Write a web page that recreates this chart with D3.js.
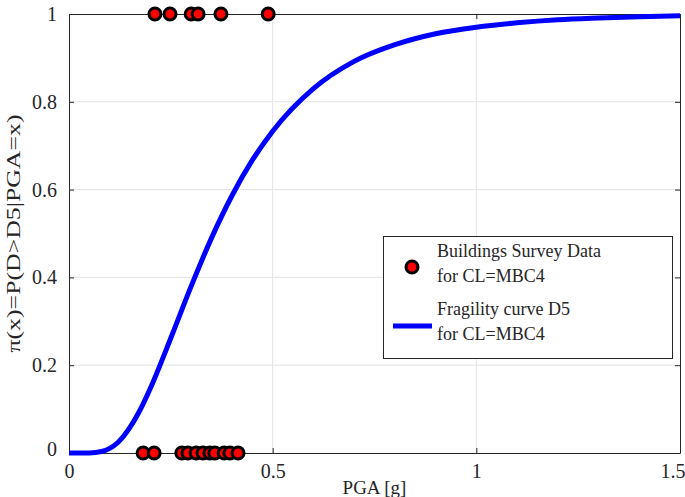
<!DOCTYPE html>
<html>
<head>
<meta charset="utf-8">
<script src="https://cdn.jsdelivr.net/npm/d3@7"></script>
<style>
  body { margin: 0; background: #fff; }
  svg text { font-family: "Liberation Serif", "Times New Roman", serif; fill: #262626; }
</style>
</head>
<body>
<svg id="chart" width="685" height="497"></svg>
<script>
// survey data: buildings that reached D5 (y = 1) and those that did not (y = 0)
const surveyCollapsed = [0.211, 0.248, 0.300, 0.317, 0.373, 0.489]
const surveyStanding = [0.182, 0.209, 0.277, 0.292, 0.312, 0.329, 0.346, 0.358, 0.381, 0.395, 0.415]

// fragility curve D5
const curvePGA = [0, 0.05, 0.08, 0.1, 0.12, 0.15, 0.18, 0.2, 0.25, 0.3, 0.35, 0.4, 0.45, 0.5,
    0.6, 0.7, 0.8, 0.9, 1.0, 1.1, 1.2, 1.3, 1.4, 1.5]
const curveProb = [0, 0.0002, 0.0034, 0.0106, 0.024, 0.059, 0.108, 0.148, 0.262, 0.380, 0.490, 0.586, 0.667, 0.733,
    0.830, 0.892, 0.930, 0.955, 0.970, 0.980, 0.987, 0.991, 0.994, 0.996]

const xTicks = [0, 0.5, 1, 1.5]
const yTicks = [0, 0.2, 0.4, 0.6, 0.8, 1]

const margin = { left: 69, right: 5, top: 14, bottom: 44 }
const width = 685, height = 497
const axisColor = "#262626"

const svg = d3.select("#chart")

const x = d3.scaleLinear().domain([0, 1.5]).range([margin.left, width - margin.right])
const y = d3.scaleLinear().domain([0, 1]).range([height - margin.bottom, margin.top])

// grid
svg.append("g")
    .selectAll("line.vg")
    .data(xTicks.slice(1, -1))
    .enter()
    .append("line")
    .attr("x1", d => x(d)).attr("x2", d => x(d))
    .attr("y1", y(0)).attr("y2", y(1))
    .attr("stroke", "#e3e3e3").attr("stroke-width", 1)
svg.append("g")
    .selectAll("line.hg")
    .data(yTicks.slice(1, -1))
    .enter()
    .append("line")
    .attr("x1", x(0)).attr("x2", x(1.5))
    .attr("y1", d => y(d)).attr("y2", d => y(d))
    .attr("stroke", "#e3e3e3").attr("stroke-width", 1)

// axes with inward ticks on all four sides
const fmt = d => String(d)
const bottomAxis = d3.axisBottom(x).tickValues(xTicks).tickSizeInner(-5).tickSizeOuter(0).tickPadding(11).tickFormat(fmt)
const topAxis = d3.axisTop(x).tickValues(xTicks).tickSizeInner(-5).tickSizeOuter(0).tickFormat("")
const leftAxis = d3.axisLeft(y).tickValues(yTicks).tickSizeInner(-5).tickSizeOuter(0).tickPadding(12).tickFormat(fmt)
const rightAxis = d3.axisRight(y).tickValues(yTicks).tickSizeInner(-5).tickSizeOuter(0).tickFormat("")

function styleAxis(g) {
    g.select(".domain").attr("stroke", axisColor).attr("stroke-width", 1)
    g.selectAll(".tick line").attr("stroke", axisColor)
    g.selectAll(".tick text").attr("font-size", 20).attr("fill", axisColor)
        .style("font-family", "'Liberation Serif', serif")
}

const gx = svg.append("g").attr("transform", `translate(0,${y(0)})`).call(bottomAxis).call(styleAxis)
svg.append("g").attr("transform", `translate(0,${y(1)})`).call(topAxis).call(styleAxis)
const gy = svg.append("g").attr("transform", `translate(${x(0)},0)`).call(leftAxis).call(styleAxis)
svg.append("g").attr("transform", `translate(${x(1.5)},0)`).call(rightAxis).call(styleAxis)

// last x label sits against the figure edge, the 0 y label a bit above the axis
gx.selectAll(".tick text").filter(d => d === 1.5)
    .attr("text-anchor", "end").attr("x", 5)
gy.selectAll(".tick text").filter(d => d === 0)
    .attr("y", -4)

// axis labels
svg.append("text")
    .attr("x", (x(0) + x(1.5)) / 2)
    .attr("y", 494)
    .attr("text-anchor", "middle")
    .attr("font-size", 19)
    .text("PGA [g]")
svg.append("text")
    .attr("transform", `translate(20,${(y(0) + y(1)) / 2}) rotate(-90)`)
    .attr("text-anchor", "middle")
    .attr("font-size", 19)
    .attr("textLength", 238)
    .attr("lengthAdjust", "spacingAndGlyphs")
    .text("π(x)=P(D>D5|PGA=x)")

// fragility curve
const curveData = curvePGA.map((p, i) => ({ pga: p, prob: curveProb[i] }))
const line = d3.line()
    .x(d => x(d.pga))
    .y(d => y(d.prob))
    .curve(d3.curveMonotoneX)
svg.append("path")
    .datum(curveData)
    .attr("d", line)
    .attr("fill", "none")
    .attr("stroke", "#0000ff")
    .attr("stroke-width", 5)

// survey points
const points = surveyCollapsed.map(p => ({ pga: p, v: 1 }))
    .concat(surveyStanding.map(p => ({ pga: p, v: 0 })))
svg.append("g")
    .selectAll("circle")
    .data(points)
    .enter()
    .append("circle")
    .attr("cx", d => x(d.pga))
    .attr("cy", d => y(d.v))
    .attr("r", 6)
    .attr("fill", "#ff0000")
    .attr("stroke", "#000")
    .attr("stroke-width", 3)

// legend
const legend = svg.append("g")
legend.append("rect")
    .attr("x", 383.5).attr("y", 236.5)
    .attr("width", 289).attr("height", 122)
    .attr("fill", "#fff")
    .attr("stroke", axisColor)
    .attr("stroke-width", 1)
legend.append("circle")
    .attr("cx", 412).attr("cy", 267).attr("r", 6)
    .attr("fill", "#ff0000").attr("stroke", "#000").attr("stroke-width", 3)
legend.append("line")
    .attr("x1", 393).attr("x2", 432).attr("y1", 326).attr("y2", 326)
    .attr("stroke", "#0000ff").attr("stroke-width", 5)
const legendLines = [
    ["Buildings Survey Data", 257],
    ["for CL=MBC4", 282],
    ["Fragility curve D5", 315],
    ["for CL=MBC4", 340]
]
legend.selectAll("text")
    .data(legendLines)
    .enter()
    .append("text")
    .attr("x", 437)
    .attr("y", d => d[1])
    .attr("font-size", 18)
    .text(d => d[0])
</script>
</body>
</html>
